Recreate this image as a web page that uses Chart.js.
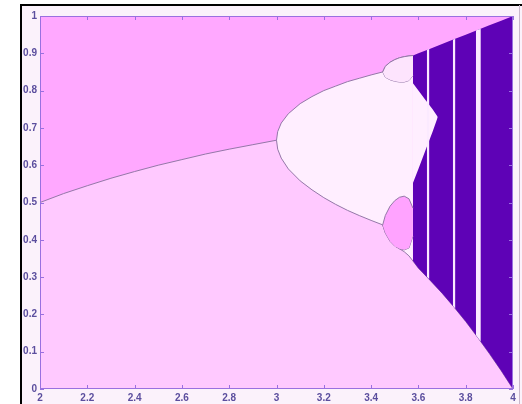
<!DOCTYPE html>
<html><head><meta charset="utf-8">
<script src="https://cdn.jsdelivr.net/npm/chart.js@4.4.0/dist/chart.umd.min.js"></script>
<style>html,body{margin:0;padding:0;background:#fff;}#wrap{width:522px;height:404px;}</style>
</head><body><div id="wrap"><canvas id="c" width="522" height="404"></canvas></div>
<script>
// ---- tick values / labels ----
const xTickVals = [2, 2.2, 2.4, 2.6, 2.8, 3, 3.2, 3.4, 3.6, 3.8, 4];
const xTickLabels = ['2', '2.2', '2.4', '2.6', '2.8', '3', '3.2', '3.4', '3.6', '3.8', '4'];
const yTickVals = [0, 0.1, 0.2, 0.3, 0.4, 0.5, 0.6, 0.7, 0.8, 0.9, 1];
const yTickLabels = ['0', '0.1', '0.2', '0.3', '0.4', '0.5', '0.6', '0.7', '0.8', '0.9', '1'];

// ---- plot frame (top of the upper region) ----
const topR = [2, 4];
const topY = [1, 1];

// ---- upper edge of the pale bubble (period-2 upper branch, then upper lobe top) ----
const bubR  = [3.0, 3.005, 3.02, 3.05, 3.1, 3.15, 3.2, 3.25, 3.3, 3.35, 3.4, 3.449, 3.46, 3.48, 3.50, 3.52, 3.54, 3.56, 3.577];
const bubUp = [0.667, 0.690, 0.713, 0.738, 0.765, 0.784, 0.800, 0.812, 0.824, 0.833, 0.842, 0.850, 0.865, 0.876, 0.883, 0.888, 0.891, 0.893, 0.894];

// ---- lower boundary (fixed point, period-2 lower branch, lobe bottom, chaotic minimum) ----
const lowR = [2.0, 2.1, 2.2, 2.3, 2.4, 2.5, 2.6, 2.7, 2.8, 2.9, 3.0, 3.005, 3.02, 3.05, 3.1, 3.15, 3.2, 3.25, 3.3, 3.35, 3.4, 3.449,
              3.46, 3.48, 3.50, 3.52, 3.54, 3.56, 3.577, 3.6, 3.65, 3.7, 3.75, 3.8, 3.85, 3.9, 3.95, 4.0];
const lowY = [0.500, 0.524, 0.545, 0.565, 0.583, 0.600, 0.615, 0.630, 0.643, 0.655, 0.667, 0.643, 0.619, 0.590, 0.558, 0.534, 0.513, 0.495, 0.479, 0.465, 0.452, 0.440,
              0.420, 0.398, 0.384, 0.376, 0.368, 0.357, 0.343, 0.324, 0.291, 0.257, 0.220, 0.181, 0.139, 0.095, 0.049, 0.0];

// ---- chaotic band ----
const chR   = [3.577, 3.6, 3.65, 3.7, 3.75, 3.8, 3.85, 3.9, 3.95, 4.0];
const chTop = [0.894, 0.900, 0.9125, 0.925, 0.9375, 0.950, 0.9625, 0.975, 0.9875, 1.0];
const chBot = [0.343, 0.324, 0.291, 0.257, 0.220, 0.181, 0.139, 0.095, 0.049, 0.0];

// ---- gap between the two chaotic bands ----
const gapR  = [3.577, 3.6, 3.63, 3.66, 3.682];
const gapUp = [0.820, 0.800, 0.775, 0.750, 0.729];
const gapLo = [0.552, 0.590, 0.640, 0.690, 0.729];

// ---- period-4 lobes ----
const lobeR = [3.449, 3.46, 3.48, 3.50, 3.52, 3.54, 3.56, 3.577];
const upLobeTop = [0.850, 0.865, 0.876, 0.883, 0.888, 0.891, 0.893, 0.894];
const upLobeBot = [0.850, 0.836, 0.829, 0.825, 0.823, 0.823, 0.827, 0.840];
const loLobeTop = [0.440, 0.465, 0.490, 0.505, 0.514, 0.517, 0.510, 0.485];
const loLobeBot = [0.440, 0.418, 0.396, 0.383, 0.376, 0.373, 0.378, 0.410];

// ---- periodic windows (left edge, right edge, top at each edge, bottom at each edge) ----
const winLeft  = [3.6355, 3.7455, 3.843];
const winRight = [3.6465, 3.7565, 3.864];
const winTopL  = [0.909, 0.936, 0.961];
const winTopR  = [0.912, 0.939, 0.966];
const winBotL  = [0.301, 0.223, 0.145];
const winBotR  = [0.294, 0.215, 0.127];

// ---- colours ----
const C_UPPER = '#ffa8ff', C_LOWER = '#ffc9ff', C_PALE = '#ffeeff', C_PURPLE = '#5e02b6',
      C_LOBE_UP = '#fde4fd', C_LOBE_LO = '#ffa3ff', C_EDGE = '#9478a8', C_WIN = '#fbeaff',
      C_AXIS = '#9a70e0', C_TEXT = '#5b4e9e';

const pts = (rs, ys) => rs.map((r, i) => ({x: r, y: ys[i]}));

const ds = [];
function add(o) { ds.push(Object.assign({pointRadius: 0, borderWidth: 0, fill: false, tension: 0}, o)); return ds.length - 1; }

add({data: pts(topR, topY), fill: 'origin', backgroundColor: C_UPPER, order: 20});
add({data: pts(bubR, bubUp), fill: 'origin', backgroundColor: C_PALE, borderColor: C_EDGE, borderWidth: 1, order: 19});
add({data: pts(lowR, lowY), fill: 'origin', backgroundColor: C_LOWER, borderColor: C_EDGE, borderWidth: 1, order: 18});
let i = ds.length;
add({data: pts(chR, chTop), fill: i + 1, backgroundColor: C_PURPLE, order: 17});
add({data: pts(chR, chBot), order: 17});
i = ds.length;
add({data: pts(gapR, gapUp), fill: i + 1, backgroundColor: C_PALE, order: 16});
add({data: pts(gapR, gapLo), order: 16});
i = ds.length;
add({data: pts(lobeR, upLobeTop), fill: i + 1, backgroundColor: C_LOBE_UP, borderColor: C_EDGE, borderWidth: 1, order: 15});
add({data: pts(lobeR, upLobeBot), borderColor: C_EDGE, borderWidth: 1, order: 15});
i = ds.length;
add({data: pts(lobeR, loLobeTop), fill: i + 1, backgroundColor: C_LOBE_LO, borderColor: C_EDGE, borderWidth: 1, order: 15});
add({data: pts(lobeR, loLobeBot), borderColor: C_EDGE, borderWidth: 1, order: 15});
for (let w = 0; w < winLeft.length; w++) {
  i = ds.length;
  add({data: pts([winLeft[w], winRight[w]], [winTopL[w], winTopR[w]]), fill: i + 1, backgroundColor: C_WIN, order: 14});
  add({data: pts([winLeft[w], winRight[w]], [winBotL[w], winBotR[w]]), order: 14});
}

const framePlugin = {
  id: 'frame',
  beforeDraw(chart) {
    const ctx = chart.ctx;
    ctx.save();
    ctx.fillStyle = '#ffffff';
    ctx.fillRect(0, 0, chart.width, chart.height);
    ctx.fillStyle = '#fbf2fb';
    ctx.fillRect(21, 5, chart.width - 21, chart.height - 5);
    ctx.strokeStyle = '#000000';
    ctx.lineWidth = 2;
    ctx.beginPath();
    ctx.moveTo(21, chart.height); ctx.lineTo(21, 5); ctx.lineTo(chart.width, 5);
    ctx.stroke();
    ctx.strokeStyle = '#c8b8cc';
    ctx.lineWidth = 1;
    ctx.beginPath(); ctx.moveTo(519.5, 5); ctx.lineTo(519.5, chart.height); ctx.stroke();
    ctx.restore();
  },
  afterDatasetsDraw(chart) {
    const {ctx, chartArea: a, scales} = chart;
    ctx.save();
    ctx.strokeStyle = C_AXIS;
    ctx.lineWidth = 1;
    ctx.strokeRect(a.left + 0.5, a.top + 0.5, a.right - a.left - 1, a.bottom - a.top - 1);
    ctx.beginPath();
    for (const v of xTickVals) {
      const px = Math.round(scales.x.getPixelForValue(v)) + 0.5;
      ctx.moveTo(px, a.bottom); ctx.lineTo(px, a.bottom - 4);
      ctx.moveTo(px, a.top); ctx.lineTo(px, a.top + 4);
    }
    for (const v of yTickVals) {
      const py = Math.round(scales.y.getPixelForValue(v)) + 0.5;
      ctx.moveTo(a.left, py); ctx.lineTo(a.left + 4, py);
      ctx.moveTo(a.right, py); ctx.lineTo(a.right - 4, py);
    }
    ctx.stroke();
    ctx.restore();
  }
};

const tickFont = {family: "'Liberation Sans', Arial, sans-serif", size: 10, weight: 'bold'};
new Chart(document.getElementById('c'), {
  type: 'line',
  data: {datasets: ds},
  plugins: [framePlugin],
  options: {
    responsive: false,
    animation: false,
    events: [],
    layout: {padding: {left: 0, top: 16, right: 9, bottom: 0}},
    plugins: {legend: {display: false}, tooltip: {enabled: false}},
    scales: {
      x: {
        type: 'linear', min: 2, max: 4,
        afterBuildTicks: s => { s.ticks = xTickVals.map(v => ({value: v})); },
        afterFit: s => { s.height = 15; },
        ticks: {callback: (v, idx) => xTickLabels[idx], color: C_TEXT, font: tickFont, padding: 3, maxRotation: 0, autoSkip: false},
        grid: {display: false, drawTicks: false},
        border: {display: false}
      },
      y: {
        type: 'linear', min: 0, max: 1,
        afterBuildTicks: s => { s.ticks = yTickVals.map(v => ({value: v})); },
        afterFit: s => { s.width = 40; },
        ticks: {callback: (v, idx) => yTickLabels[idx], color: C_TEXT, font: tickFont, padding: 3, autoSkip: false},
        grid: {display: false, drawTicks: false},
        border: {display: false}
      }
    }
  }
});
</script></body></html>
